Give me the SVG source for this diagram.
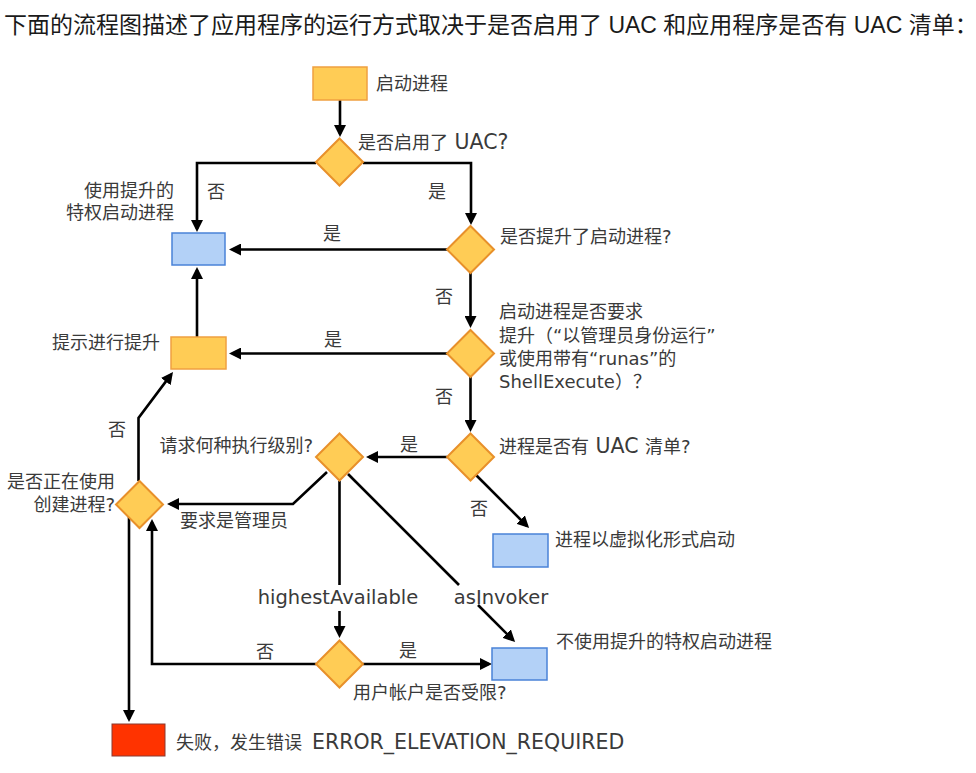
<svg xmlns="http://www.w3.org/2000/svg" width="976" height="773" viewBox="0 0 976 773">
<style>
.title{font-family:"Liberation Sans","Noto Sans CJK SC",sans-serif;font-size:23px;fill:#1a1a1a}
.t{font-family:"DejaVu Sans","Noto Sans CJK SC",sans-serif;font-size:18px;fill:#3a3a3a}
.lat{font-size:19.5px}
.big{font-size:20.5px}
.end{text-anchor:end}
.mid{text-anchor:middle}
.dec{fill:#FFCC55;stroke:#E8902A;stroke-width:2}
.proc{fill:#FFCC55;stroke:#F0A040;stroke-width:1.5}
.blue{fill:#B3D1F7;stroke:#4A82D8;stroke-width:1.5}
.red{fill:#FF3300;stroke:#8a3a30;stroke-width:1}
.c{fill:none;stroke:#000;stroke-width:2.6}
.a{marker-end:url(#arr)}
</style>
<defs>
<marker id="arr" markerUnits="userSpaceOnUse" viewBox="0 0 12 12" refX="9" refY="6" markerWidth="12" markerHeight="12" orient="auto">
<path d="M0,0 L12,6 L0,12 z" fill="#000"/>
</marker>
</defs>
<rect width="976" height="773" fill="#fff"/>
<text class="title" x="4" y="33">下面的流程图描述了应用程序的运行方式取决于是否启用了 UAC 和应用程序是否有 UAC 清单：</text>

<g id="connectors">
<path class="c a" d="M340,100 V134"/>
<path class="c a" d="M316,163 H197 V229"/>
<path class="c a" d="M363,163 H471 V222"/>
<path class="c a" d="M447,249.5 H232"/>
<path class="c a" d="M470.5,273 V325"/>
<path class="c a" d="M447,353.5 H232"/>
<path class="c a" d="M197,337 V270"/>
<path class="c a" d="M470.5,377 V429"/>
<path class="c a" d="M447,457 H369"/>
<path class="c a" d="M476,475 L527,526"/>
<path class="c a" d="M327,472 L293,504 H170"/>
<path class="c" d="M339.5,481 V585"/>
<path class="c a" d="M339.5,611 V635"/>
<path class="c" d="M348,474 L459,585"/>
<path class="c a" d="M478,605 L513,640"/>
<path class="c a" d="M363,664 H489"/>
<path class="c a" d="M316,664 H152 V522"/>
<path class="c a" d="M138.5,481 V418 L171.2,374.4"/>
<path class="c a" d="M129,517 V719"/>
</g>

<g id="start"><rect class="proc" x="313" y="67" width="54" height="33"/><text class="t" x="376" y="90">启动进程</text></g>
<g id="uacEnabled"><polygon class="dec" points="339.5,138.5 363,162 339.5,185.5 316,162"/><text class="t" x="358" y="149">是否启用了<tspan class="big"> UAC?</tspan></text></g>
<g id="elevatedNoUac"><rect class="blue" x="172" y="233" width="53" height="32"/><text class="t end" x="174" y="197">使用提升的</text><text class="t end" x="174" y="219">特权启动进程</text></g>
<g id="parentElevated"><polygon class="dec" points="470.5,226 494,249.5 470.5,273 447,249.5"/><text class="t" x="500" y="243">是否提升了启动进程?</text></g>
<g id="requestsElevation"><polygon class="dec" points="470.5,330 494,353.5 470.5,377 447,353.5"/>
<text class="t" x="499" y="318">启动进程是否要求</text>
<text class="t" x="499" y="342">提升（“以管理员身份运行”</text>
<text class="t" x="499" y="365">或使用带有“runas”的</text>
<text class="t" x="499" y="388">ShellExecute）？</text></g>
<g id="prompt"><rect class="proc" x="171" y="337" width="55" height="32"/><text class="t end" x="160" y="349">提示进行提升</text></g>
<g id="hasManifest"><polygon class="dec" points="470.5,433.5 494,457 470.5,480.5 447,457"/><text class="t" x="499" y="453">进程是否有<tspan class="big"> UAC </tspan>清单?</text></g>
<g id="execLevel"><polygon class="dec" points="339.5,433.5 363,457 339.5,480.5 316,457"/><text class="t end" x="313" y="452">请求何种执行级别?</text></g>
<g id="createProcess"><polygon class="dec" points="139.5,481 163,504.5 139.5,528 116,504.5"/><text class="t end" x="115" y="488">是否正在使用</text><text class="t end" x="115" y="511">创建进程?</text></g>
<g id="virtualized"><rect class="blue" x="493" y="534" width="55" height="33"/><text class="t" x="555" y="546">进程以虚拟化形式启动</text></g>
<g id="restricted"><polygon class="dec" points="339.5,640.5 363,664 339.5,687.5 316,664"/><text class="t" x="353" y="699">用户帐户是否受限?</text></g>
<g id="noElevation"><rect class="blue" x="492" y="648" width="55" height="32"/><text class="t" x="556" y="648">不使用提升的特权启动进程</text></g>
<g id="fail"><rect class="red" x="112" y="724" width="53" height="32"/><text class="t" x="176" y="749">失败，发生错误 <tspan class="big" x="312">ERROR_ELEVATION_REQUIRED</tspan></text></g>

<g id="labels">
<text class="t" x="207" y="198">否</text>
<text class="t" x="428" y="198">是</text>
<text class="t" x="323" y="240">是</text>
<text class="t" x="435" y="303">否</text>
<text class="t" x="324" y="346">是</text>
<text class="t" x="435" y="403">否</text>
<text class="t" x="108" y="436">否</text>
<text class="t" x="400" y="451">是</text>
<text class="t" x="470" y="515">否</text>
<text class="t" x="180" y="527">要求是管理员</text>
<text class="t lat mid" x="338" y="604">highestAvailable</text>
<text class="t lat mid" x="501" y="604">asInvoker</text>
<text class="t" x="256" y="658">否</text>
<text class="t" x="399" y="657">是</text>
</g>
</svg>
